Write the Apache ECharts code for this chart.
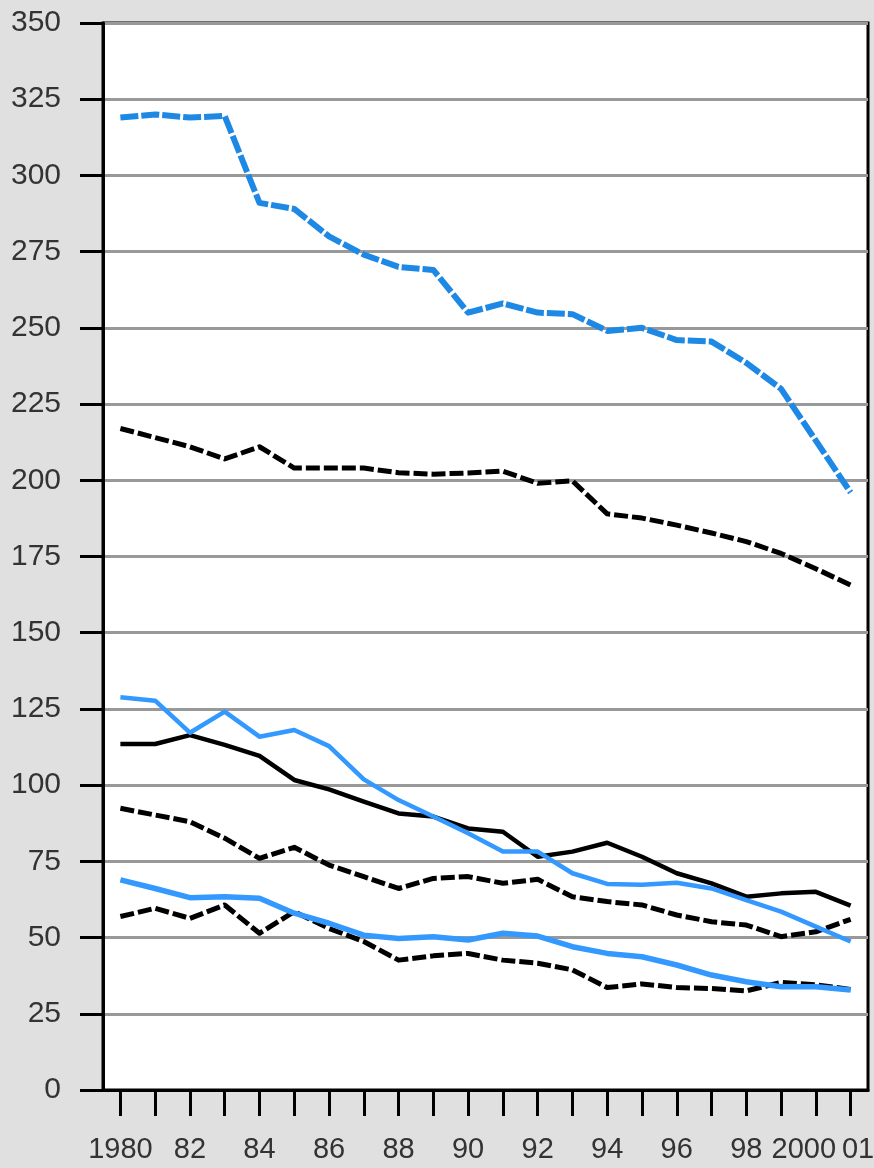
<!DOCTYPE html>
<html><head><meta charset="utf-8">
<script src="https://cdn.jsdelivr.net/npm/echarts@6/dist/echarts.min.js"></script>
<style>html,body{margin:0;padding:0;background:#e0e0e0}#c{width:874px;height:1168px}</style>
</head><body><div id="c"></div>
<script>
const years = ['1980','1981','1982','1983','1984','1985','1986','1987','1988','1989','1990','1991','1992','1993','1994','1995','1996','1997','1998','1999','2000','2001'];
const yearLabels = ['1980','','82','','84','','86','','88','','90','','92','','94','','96','','98','','2000','01'];
const yTicks = [0,25,50,75,100,125,150,175,200,225,250,275,300,325,350];

const blueDashedTop = [319,320,319,319.5,291,289,280,274,270,269,255,258,255,254.5,249,250,246,245.5,238.5,230,213,196];
const blackDashedUpper = [217,214,211,207,211,204,204,204,202.5,202,202.4,203,199,199.8,189,187.6,185.3,182.7,179.9,176,171,165.6];
const blueSolidUpper = [128.8,127.7,117.2,124.1,115.9,118.1,112.8,101.9,95.1,89.7,84.2,78.2,78.2,71.1,67.6,67.3,68,66.1,62.3,58.5,53.6,48.7];
const blackSolid = [113.5,113.5,116.4,113.2,109.6,101.7,98.6,94.6,90.7,89.7,85.8,84.7,76.5,78.2,81.1,76.5,71.1,67.8,63.4,64.5,65,60.5];
const blackDashedMid = [92.4,90.2,88,82.6,76,79.6,73.8,70,66.1,69.4,70,67.8,69.1,63.4,61.8,60.7,57.4,55.2,54.1,50.3,51.9,56];
const blueSolidLower = [68.9,66.1,63.1,63.4,62.9,58,54.7,50.8,49.7,50.3,49.2,51.4,50.5,47,44.8,43.7,41,37.7,35.5,33.9,33.9,32.8];
const blackDashedLower = [56.9,59.6,56.3,60.7,51.4,58.5,53,48.7,42.6,44,44.8,42.6,41.6,39.4,33.6,34.8,33.6,33.3,32.5,35.3,34.5,33];

const chart = echarts.init(document.getElementById('c'));
function line(data, color, width, type, z) {
  return { type: 'line', data: data, symbol: 'none', z: z,
    lineStyle: { color: color, width: width, type: type, cap: 'butt', join: 'round' } };
}
const labelFont = '"Liberation Sans", Arial, sans-serif';
chart.setOption({
  backgroundColor: '#e0e0e0',
  animation: false,
  grid: { left: 103, right: 6, top: 23, bottom: 78, containLabel: false, outerBoundsMode: 'none',
    show: true, backgroundColor: '#ffffff', borderColor: '#000', borderWidth: 3 },
  xAxis: {
    type: 'category', data: years, boundaryGap: true,
    axisLine: { lineStyle: { color: '#000', width: 3 } },
    axisTick: { show: true, alignWithLabel: true, interval: 0, length: 26, lineStyle: { color: '#000', width: 3 } },
    axisLabel: { interval: 0, margin: 45, fontSize: 29, fontFamily: labelFont, color: '#333',
      formatter: function (v, i) {
        if (i === 20) return '{l|' + yearLabels[i] + '}';
        if (i === 21) return '{r|' + yearLabels[i] + '}';
        return yearLabels[i];
      },
      rich: {
        l: { fontSize: 29, fontFamily: labelFont, color: '#333', padding: [0, 24, 0, 0] },
        r: { fontSize: 29, fontFamily: labelFont, color: '#333', padding: [0, 0, 0, 15] }
      } },
    splitLine: { show: false }
  },
  yAxis: {
    type: 'value', min: yTicks[0], max: yTicks[yTicks.length - 1], interval: 25,
    axisLine: { show: true, lineStyle: { color: '#000', width: 3 } },
    axisTick: { show: true, length: 23, lineStyle: { color: '#000', width: 3 } },
    axisLabel: { margin: 42, fontSize: 30, fontFamily: labelFont, color: '#333' },
    splitLine: { show: true, lineStyle: { color: '#999', width: 3 } }
  },
  series: [
    line(blackDashedUpper, '#000', 5, [14, 4], 2),
    line(blackSolid, '#000', 4.5, 'solid', 2),
    line(blackDashedMid, '#000', 5, [14, 4], 2),
    line(blackDashedLower, '#000', 5, [14, 4], 2),
    line(blueDashedTop, '#1e88e5', 6, [18, 3], 3),
    line(blueSolidUpper, '#3399ff', 4.5, 'solid', 3),
    line(blueSolidLower, '#3399ff', 5.5, 'solid', 3)
  ]
});
</script></body></html>
